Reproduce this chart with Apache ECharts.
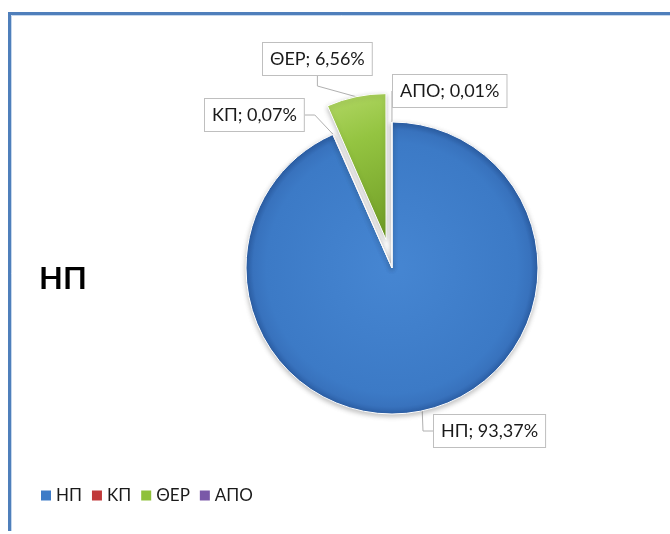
<!DOCTYPE html>
<html>
<head>
<meta charset="utf-8">
<script src="https://cdn.jsdelivr.net/npm/echarts@6/dist/echarts.min.js"></script>
<style>
  html, body { margin: 0; padding: 0; background: #ffffff; }
  #chart { width: 670px; height: 534px; }
</style>
</head>
<body>
<div id="chart"></div>
<script>
// Shares of the four categories (percent)
const categories = ['ΗΠ', 'ΚΠ', 'ΘΕΡ', 'ΑΠΟ'];
const shares = [93.37, 0.07, 6.56, 0.01];
const pulledOut = 'ΘΕΡ';

// Slice colours
const sliceColors = ['#3d7bc7', '#c0393a', '#8fc13b', '#7a58a8'];

// Pie geometry
const pieCenter = [392, 268];
const pieRadius = 146;
const explodeDistance = 29;

// Where each callout box sits (top-left corner, px)
const calloutBoxes = {
  'ΗΠ': [434, 415],
  'ΚΠ': [205, 99],
  'ΘΕΡ': [263, 43],
  'ΑΠΟ': [393, 75]
};

const fmt = v => v.toFixed(2).replace('.', ',');

// Direction of the pulled-out slice: bisector of its angular span,
// measured clockwise from 12 o'clock.
const total = shares.reduce((a, b) => a + b, 0);
const pIdx = categories.indexOf(pulledOut);
const before = shares.slice(0, pIdx).reduce((a, b) => a + b, 0);
const midAngle = (before + shares[pIdx] / 2) / total * 2 * Math.PI;
const explodedCenter = [
  pieCenter[0] + Math.sin(midAngle) * explodeDistance,
  pieCenter[1] - Math.cos(midAngle) * explodeDistance
];

function fillFor(name, i, center) {
  if (name === 'ΗΠ') {
    return {
      type: 'radial', x: center[0], y: center[1], r: pieRadius, global: true,
      colorStops: [
        { offset: 0, color: '#4686d2' },
        { offset: 0.86, color: '#3c7ac6' },
        { offset: 0.95, color: '#3872bd' },
        { offset: 1, color: '#2c5fa6' }
      ]
    };
  }
  if (name === 'ΘΕΡ') {
    return {
      type: 'linear', x: 0, y: 0, x2: 1, y2: 1,
      colorStops: [
        { offset: 0, color: '#b3d866' },
        { offset: 0.35, color: '#94c441' },
        { offset: 1, color: '#6f9c25' }
      ]
    };
  }
  return sliceColors[i];
}

const hiddenStyle = { color: 'transparent', borderWidth: 0, shadowBlur: 0, shadowColor: 'transparent' };

// Builds one ring of slices; `visible` picks which slices this ring paints.
function pieSeries(center, visible) {
  return {
    type: 'pie',
    center: center,
    radius: pieRadius,
    startAngle: 90,
    clockwise: true,
    avoidLabelOverlap: false,
    silent: true,
    emphasis: { disabled: true },
    itemStyle: {
      borderColor: '#ffffff',
      borderWidth: 1,
      shadowBlur: 5,
      shadowColor: 'rgba(0,0,0,0.25)',
      shadowOffsetY: 2
    },
    label: {
      show: true,
      formatter: p => p.name + '; ' + fmt(p.value) + '%',
      fontFamily: 'Lato',
      fontSize: 18,
      lineHeight: 20,
      color: '#1a1a1a',
      backgroundColor: '#ffffff',
      borderColor: '#bfbfbf',
      borderWidth: 1,
      padding: [6, 7, 6, 7]
    },
    labelLine: {
      show: true,
      length: 12,
      length2: 10,
      lineStyle: { color: '#b0b0b0', width: 1 }
    },
    labelLayout: params => {
      const box = calloutBoxes[categories[params.dataIndex]];
      return { x: box[0], y: box[1], align: 'left', verticalAlign: 'top' };
    },
    data: categories.map((name, i) => {
      const on = visible(name);
      return {
        name: name,
        value: shares[i],
        itemStyle: on ? { color: fillFor(name, i, center) } : hiddenStyle,
        label: { show: on },
        labelLine: { show: on }
      };
    })
  };
}

const chart = echarts.init(document.getElementById('chart'), null, { renderer: 'canvas' });

chart.setOption({
  backgroundColor: '#ffffff',
  animation: false,
  color: sliceColors,
  title: {
    text: 'ΗΠ',
    left: 34,
    top: 258,
    textStyle: { fontFamily: 'Lato', fontWeight: 'bold', fontSize: 31, color: '#000000' }
  },
  legend: {
    left: 36,
    top: 482,
    orient: 'horizontal',
    icon: 'rect',
    itemWidth: 10,
    itemHeight: 10,
    itemGap: 10,
    data: categories.map((name, i) => ({ name: name, itemStyle: { color: sliceColors[i], borderWidth: 0 } })),
    textStyle: { fontFamily: 'Lato', fontSize: 17, color: '#1a1a1a' }
  },
  graphic: [
    {
      type: 'polyline',
      shape: { points: [[9.5, 531], [9.5, 13.5], [690, 13.5]] },
      style: { stroke: '#4f7fbb', lineWidth: 3, fill: null },
      silent: true
    },
    {
      type: 'polyline',
      shape: { points: [[11.5, 531], [11.5, 15.5], [690, 15.5]] },
      style: { stroke: '#c5d7ec', lineWidth: 1, fill: null },
      silent: true
    }
  ],
  series: [
    pieSeries(pieCenter, name => name !== pulledOut),
    pieSeries(explodedCenter, name => name === pulledOut)
  ]
});
</script>
</body>
</html>
